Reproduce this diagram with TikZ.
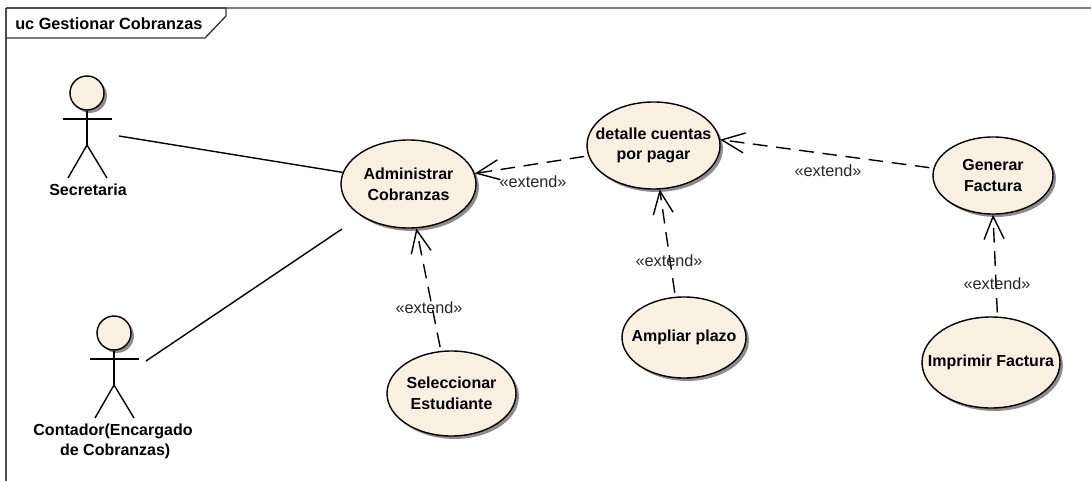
\documentclass[tikz,border=0pt]{standalone}
\usepackage{fontspec}
\setmainfont{Liberation Sans}
\usetikzlibrary{shapes.geometric,arrows.meta,shadows}
\definecolor{ucfill}{HTML}{F9F0E2}
\tikzset{
  ucshadow/.style={drop shadow={shadow xshift=2.2pt,shadow yshift=-2.2pt,fill=black,opacity=.45}},
  usecase/.style={ellipse,draw=black,line width=1.05pt,fill=ucfill,inner sep=0pt,ucshadow},
  actorhead/.style={circle,draw=black,line width=1.05pt,fill=ucfill,inner sep=0pt,minimum size=25.5pt,ucshadow},
  actorline/.style={black,line width=1.05pt},
  boldtext/.style={font=\fontsize{12}{15.5}\selectfont\bfseries,align=center,inner sep=0pt},
  extendlabel/.style={font=\fontsize{12.2}{15}\selectfont,text=black!85,inner sep=0pt},
  extendline/.style={black,line width=1.05pt,dash pattern=on 11pt off 6.5pt,
    -{Straight Barb[length=17pt,width=15pt,line width=1.05pt]},shorten <=3pt},
}
\begin{document}
\begin{tikzpicture}[x=.75pt,y=-.75pt]
\useasboundingbox (0,0) rectangle (1091,481);

% frame
\draw[gray,line width=1.5pt] (6,8) -- (1091,8);
\draw[black!70,line width=1.2pt] (6,8) -- (6,481);
\draw[black!80,line width=1pt] (6,8) -- (226,8) -- (226,16) -- (205,38) -- (6,38);
\node[boldtext,font=\fontsize{12.2}{15}\selectfont\bfseries,anchor=west] (title) at (15,24) {uc Gestionar Cobranzas};

% use cases
\foreach \name/\x/\y/\rx/\ry/\txt in {
  administrar/408.5/184/67.5/44/{Administrar\\Cobranzas},
  detalle/653.5/145.5/66.5/43.5/{detalle cuentas\\por pagar},
  generar/993/175.5/60/38.5/{Generar\\Factura},
  seleccionar/451.5/393.5/64.5/42.5/{Seleccionar\\Estudiante},
  ampliar/684/337.5/62/40.5/{Ampliar plazo},
  imprimir/991/362.5/69/45.5/{Imprimir Factura}} {
  \node[usecase,minimum width=1.5pt*\rx,minimum height=1.5pt*\ry] (\name) at (\x,\y) {};
  \node[boldtext] (\name text) at (\x,\y) {\txt};
}

% actors
\foreach \name/\x/\y in {secretaria/87/93,contador/114/333} {
  \node[actorhead] (\name) at (\x,\y) {};
  \draw[actorline] (\name.south) -- (\x,\y+52);
  \draw[actorline] (\x-24,\y+26) -- (\x+25,\y+26);
  \draw[actorline] (\x-19,\y+85) -- (\x,\y+52) -- (\x+20,\y+85);
}
\node[boldtext] (secretarialabel) at (88,190) {Secretaria};
\node[boldtext] (contadorlabel) at (113,441.5) {Contador(Encargado\\ \ de Cobranzas)};

% associations
\coordinate (secretariaend) at (119,136);
\coordinate (contadorend) at (146,361);
\coordinate (administrarend) at (342,229);
\draw[actorline] (secretariaend) -- (administrar.170);
\draw[actorline] (contadorend) -- (administrarend);

% extends
\draw[extendline] (detalle.189) -- (administrar.9);
\draw[extendline] (generar.173) -- (detalle.5);
\draw[extendline] (seleccionar.104) -- (administrar.-80);
\draw[extendline] (ampliar.102) -- (detalle.-82);
\draw[extendline] (imprimir.82) -- (generar.-90);

\node[extendlabel] (extenda) at (533,182) {«extend»};
\node[extendlabel] (extendb) at (828,171) {«extend»};
\node[extendlabel] (extendc) at (429,308) {«extend»};
\node[extendlabel] (extendd) at (669,261) {«extend»};
\node[extendlabel] (extende) at (997,284) {«extend»};
\end{tikzpicture}
\end{document}
